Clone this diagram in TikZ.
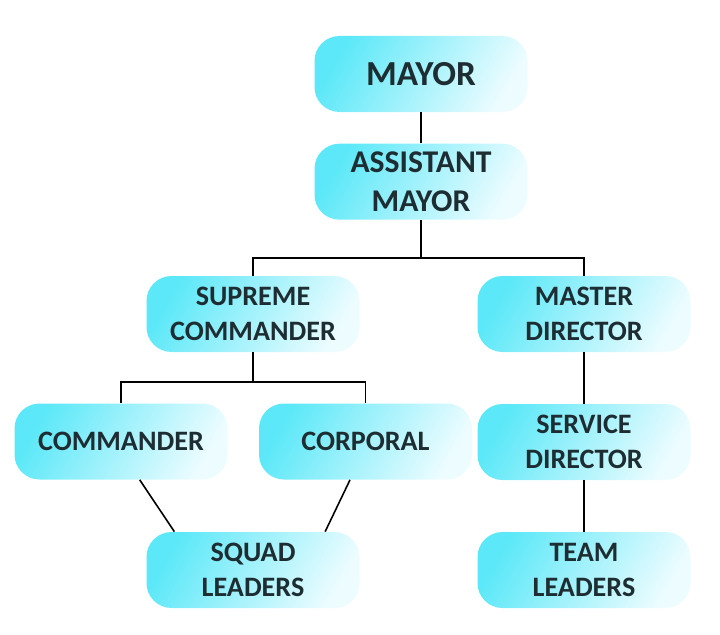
\documentclass[tikz,border=0pt]{standalone}
\usepackage{fontspec}
\setmainfont{Carlito}
\usepackage{xcolor}
\usepackage{tikz}
\usetikzlibrary{positioning}
\definecolor{boxcyan}{RGB}{92,232,248}
\definecolor{boxlight}{RGB}{236,252,255}
\definecolor{textdark}{RGB}{30,45,50}

\begin{document}
\begin{tikzpicture}[every node/.style={font=\bfseries\fontsize{16}{19.5}\selectfont, text=textdark, align=center}, box/.style={rectangle, rounded corners=0.5cm, draw=none, left color=boxcyan, right color=boxlight, shading angle=60, minimum width=4.26cm, minimum height=1.52cm}, link/.style={line width=0.9pt, black}]
\useasboundingbox (0,0) rectangle (14.4,-12.7);
\node[box, font=\bfseries\fontsize{20}{24}\selectfont] (mayor) at (8.42,-1.48) {MAYOR};
\node[box, font=\bfseries\fontsize{18}{22}\selectfont, below=0.62cm of mayor] (asst) {ASSISTANT\\MAYOR};
\node[box] (sup) at (5.06,-6.28) {SUPREME\\COMMANDER};
\node[box] (mas) at (11.68,-6.28) {MASTER\\DIRECTOR};
\node[box] (cmd) at (2.42,-8.83) {COMMANDER};
\node[box] (corp) at (7.31,-8.83) {CORPORAL};
\node[box] (serv) at (11.68,-8.84) {SERVICE\\DIRECTOR};
\node[box] (squad) at (5.06,-11.4) {SQUAD\\LEADERS};
\node[box] (team) at (11.68,-11.4) {TEAM\\LEADERS};
\coordinate (j1) at (8.42,-5.16);
\coordinate (j2) at (5.06,-7.64);
\draw[link] (mayor) -- (asst); \draw[link] (asst.south) -- (j1) -| (sup.north); \draw[link] (j1) -| (mas.north);
\draw[link] (sup.south) -- (j2) -| (cmd.north); \draw[link] (j2) -| (corp.north);
\draw[link] (cmd.-64) -- (squad.154); \draw[link] (corp.-112) -- (squad.28);
\draw[link] (mas) -- (serv); \draw[link] (serv) -- (team);
\end{tikzpicture}
\end{document}
